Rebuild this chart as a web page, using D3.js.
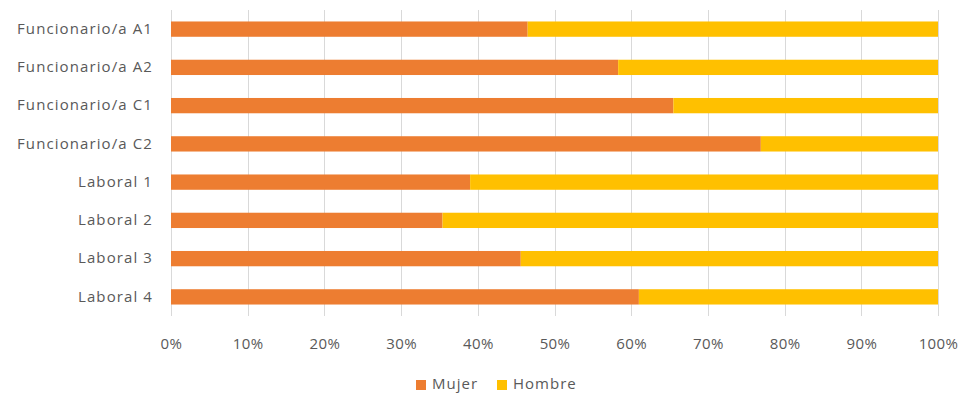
<!DOCTYPE html>
<html>
<head>
<meta charset="utf-8">
<script src="https://cdn.jsdelivr.net/npm/d3@7"></script>
<style>
  html, body { margin: 0; padding: 0; background: #fff; }
  svg { display: block; }
  text { font-family: "Open Sans", Lato, sans-serif; fill: #595959; }
</style>
</head>
<body>
<svg id="chart" width="962" height="394"></svg>
<script>
// Share of women and men per staff category
const categories = [
  "Funcionario/a A1", "Funcionario/a A2", "Funcionario/a C1", "Funcionario/a C2",
  "Laboral 1", "Laboral 2", "Laboral 3", "Laboral 4"
];
const mujer  = [46.5, 58.3, 65.5, 76.9, 39.0, 35.4, 45.6, 61.0];
const hombre = mujer.map(v => 100 - v);
const seriesNames = ["Mujer", "Hombre"];
const seriesColors = ["#ED7D31", "#FFC000"];
const tickValues = [0, 10, 20, 30, 40, 50, 60, 70, 80, 90, 100];

const svg = d3.select("#chart");
const margin = { top: 10, right: 24, bottom: 78, left: 171 };
const width = 962 - margin.left - margin.right;
const height = 394 - margin.top - margin.bottom;

const g = svg.append("g").attr("transform", `translate(${margin.left},${margin.top})`);

const x = d3.scaleLinear().domain([0, 100]).range([0, width]);
const y = d3.scaleBand().domain(categories).range([0, height]).paddingInner(0.6).paddingOuter(0.3);

// vertical gridlines
g.append("g")
  .selectAll("line")
  .data(tickValues)
  .join("line")
  .attr("x1", d => Math.round(x(d)) + 0.5)
  .attr("x2", d => Math.round(x(d)) + 0.5)
  .attr("y1", 0)
  .attr("y2", height)
  .attr("stroke", "#d9d9d9")
  .attr("stroke-width", 1);

// stacked bars
const rows = categories.map((c, i) => ({ cat: c, Mujer: mujer[i], Hombre: hombre[i] }));
const stack = d3.stack().keys(seriesNames)(rows);

g.append("g")
  .selectAll("g")
  .data(stack)
  .join("g")
  .attr("fill", (d, i) => seriesColors[i])
  .selectAll("rect")
  .data(d => d)
  .join("rect")
  .attr("x", d => x(d[0]))
  .attr("width", d => x(d[1]) - x(d[0]))
  .attr("y", d => y(d.data.cat))
  .attr("height", y.bandwidth());

// category axis
const yAxis = g.append("g").call(d3.axisLeft(y).tickSize(0).tickPadding(18));
yAxis.select(".domain").remove();
yAxis.selectAll("text")
  .attr("font-size", 15)
  .style("letter-spacing", "1.1px")
  .style("font-family", "'Open Sans', Lato, sans-serif")
  .style("fill", "#595959");

// value axis
const xAxis = g.append("g")
  .attr("transform", `translate(0,${height})`)
  .call(d3.axisBottom(x).tickValues(tickValues).tickSize(0).tickPadding(22).tickFormat(d => d + "%"));
xAxis.select(".domain").remove();
xAxis.selectAll("text")
  .attr("font-size", 15)
  .style("letter-spacing", "0.4px")
  .style("font-family", "'Open Sans', Lato, sans-serif")
  .style("fill", "#595959");

// legend
const legend = svg.append("g").attr("transform", "translate(416,384)");
const items = [{ name: "Mujer", dx: 0 }, { name: "Hombre", dx: 81 }];
items.forEach((it, i) => {
  const lg = legend.append("g").attr("transform", `translate(${it.dx},0)`);
  lg.append("rect").attr("x", 0).attr("y", -4).attr("width", 10).attr("height", 10).attr("fill", seriesColors[i]);
  lg.append("text")
    .attr("x", 16)
    .attr("y", 0)
    .attr("dy", "0.32em")
    .attr("font-size", 15)
    .style("letter-spacing", "1px")
    .text(it.name);
});
</script>
</body>
</html>
